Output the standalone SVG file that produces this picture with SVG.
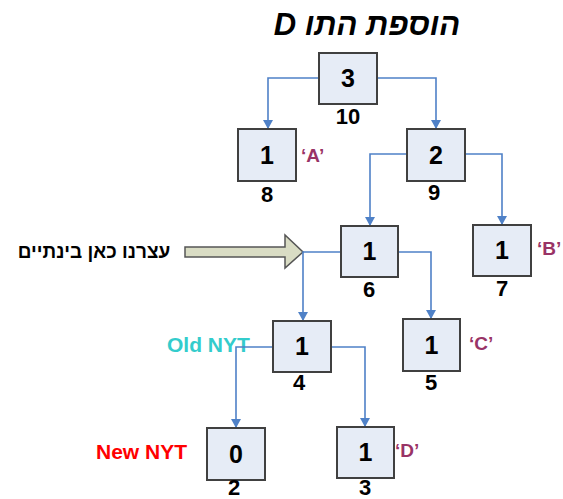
<svg xmlns="http://www.w3.org/2000/svg" width="563" height="499" viewBox="0 0 563 499">
<style>
.box{fill:#e6ecf6;stroke:#404040;stroke-width:2}
.val{font-family:"Liberation Sans",Arial,sans-serif;font-weight:bold;font-size:25px;fill:#000;text-anchor:middle}
.idx{font-family:"Liberation Sans",Arial,sans-serif;font-weight:bold;font-size:22px;fill:#000;text-anchor:middle}
.sym{font-family:"Liberation Sans",Arial,sans-serif;font-weight:bold;font-size:19px;fill:#993366}
.con{fill:none;stroke:#4f81c7;stroke-width:1.6}
.lbl{font-family:"Liberation Sans",Arial,sans-serif;font-weight:bold;font-size:21px}
</style>
<defs>
<marker id="ah" markerUnits="userSpaceOnUse" markerWidth="12" markerHeight="12" viewBox="0 0 12 12" refX="10" refY="6" orient="auto">
<path d="M1,1 L10,6 L1,11 Z" fill="#4f81c7"/>
</marker>
</defs>
<rect width="563" height="499" fill="#ffffff"/>
<text x="367" y="35" direction="rtl" text-anchor="middle" font-family="'Liberation Sans',Arial,sans-serif" font-weight="bold" font-style="italic" font-size="31">הוספת התו D</text>
<polygon points="185,247 285,247 285,235 303,252 285,268 285,257 185,257" fill="#d9dcc4" stroke="#555555" stroke-width="1.5"/>
<text x="94" y="258" text-anchor="middle" font-family="'Liberation Sans',Arial,sans-serif" font-weight="bold" font-size="19">עצרנו כאן בינתיים</text>
<text class="lbl" x="167" y="352" fill="#33cccc">Old NYT</text>
<text class="lbl" x="96" y="459" fill="#ff0000">New NYT</text>
<g id="connectors">
<path class="con" d="M319,78 H268 V129" marker-end="url(#ah)"/>
<path class="con" d="M377,78 H436 V129" marker-end="url(#ah)"/>
<path class="con" d="M407,154 H370 V226" marker-end="url(#ah)"/>
<path class="con" d="M465,154 H502 V225" marker-end="url(#ah)"/>
<path class="con" d="M341,252 H303 V321" marker-end="url(#ah)"/>
<path class="con" d="M398,252 H431 V319" marker-end="url(#ah)"/>
<path class="con" d="M273,347 H236 V428" marker-end="url(#ah)"/>
<path class="con" d="M331,347 H365 V427" marker-end="url(#ah)"/>
</g>
<g id="n10"><rect class="box" x="319" y="53" width="58" height="51"/><text class="val" x="348" y="87">3</text><text class="idx" x="348" y="124">10</text></g>
<g id="n8"><rect class="box" x="238" y="129" width="58" height="52"/><text class="val" x="267" y="164">1</text><text class="idx" x="267" y="202">8</text><text class="sym" x="301" y="162">‘A’</text></g>
<g id="n9"><rect class="box" x="407" y="129" width="58" height="52"/><text class="val" x="436" y="164">2</text><text class="idx" x="434" y="200">9</text></g>
<g id="n6"><rect class="box" x="341" y="226" width="57" height="51"/><text class="val" x="369.5" y="260">1</text><text class="idx" x="369" y="297">6</text></g>
<g id="n7"><rect class="box" x="473" y="225" width="58" height="51"/><text class="val" x="502" y="259">1</text><text class="idx" x="502" y="296">7</text><text class="sym" x="537" y="255">‘B’</text></g>
<g id="n4"><rect class="box" x="273" y="321" width="58" height="51"/><text class="val" x="302" y="355">1</text><text class="idx" x="299" y="390">4</text></g>
<g id="n5"><rect class="box" x="403" y="319" width="57" height="52"/><text class="val" x="431.5" y="354">1</text><text class="idx" x="431" y="390">5</text><text class="sym" x="469" y="350">‘C’</text></g>
<g id="n2"><rect class="box" x="207" y="428" width="58" height="52"/><text class="val" x="236" y="463">0</text><text class="idx" x="234" y="495">2</text></g>
<g id="n3"><rect class="box" x="337" y="427" width="57" height="51"/><text class="val" x="365.5" y="461">1</text><text class="idx" x="365" y="495">3</text><text class="sym" x="395" y="457">‘D’</text></g>
</svg>
